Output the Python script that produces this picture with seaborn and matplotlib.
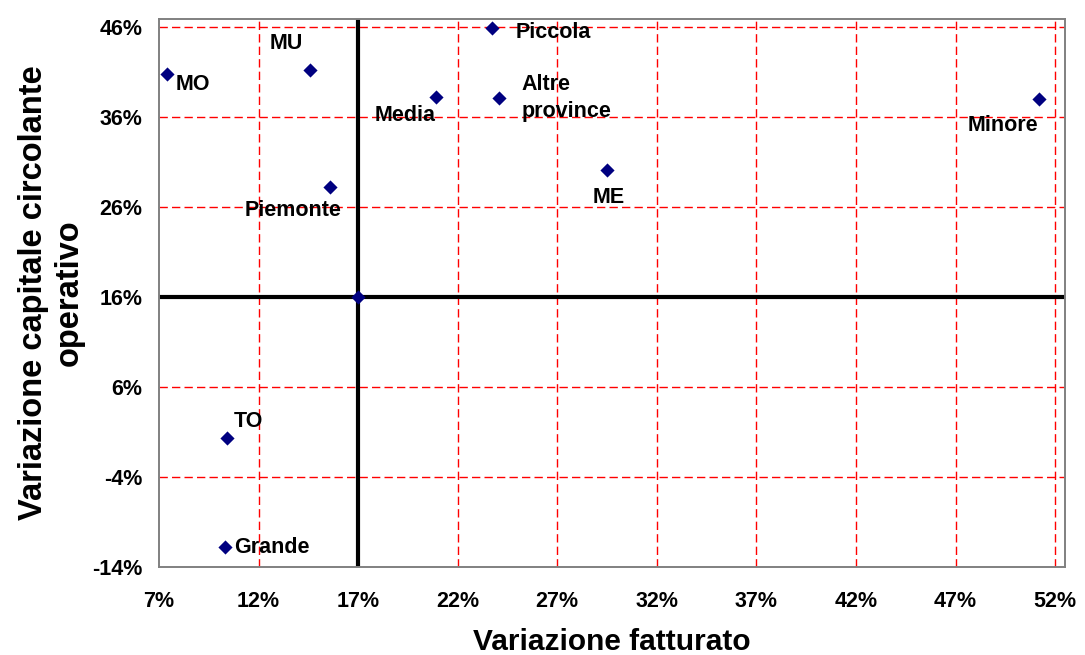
import numpy as np
import pandas as pd
import matplotlib
matplotlib.use("Agg")
import matplotlib.pyplot as plt
import seaborn as sns

# Data (percent values)
labels = ["MO", "MU", "Piccola", "Media", "Altre\nprovince", "Minore",
          "ME", "Piemonte", "", "TO", "Grande"]
var_fatturato = [7.4, 14.6, 23.7, 20.9, 24.1, 51.2, 29.5, 15.6, 17.0, 10.4, 10.3]
var_capitale = [40.8, 41.2, 45.9, 38.2, 38.1, 38.0, 30.1, 28.2, 16.0, 0.3, -11.8]

x_ticks = [7, 12, 17, 22, 27, 32, 37, 42, 47, 52]
y_ticks = [-14, -4, 6, 16, 26, 36, 46]
x_cross = 17.0
y_cross = 16.0

# label offsets in points (dx, dy, ha)
label_pos = {
    "MO": (6, -8, "left"),
    "MU": (-17, 19, "center"),
    "Piccola": (17, -3, "left"),
    "Media": (0, -13, "right"),
    "Altre\nprovince": (16, 0, "left"),
    "Minore": (-26, -19, "center"),
    "ME": (1, -20, "center"),
    "Piemonte": (-27, -17, "center"),
    "TO": (5, 12, "left"),
    "Grande": (7, 0, "left"),
}

df = pd.DataFrame({"label": labels, "fatturato": var_fatturato,
                   "capitale": var_capitale})

sns.set_style("white")
plt.rcParams["font.family"] = ["Liberation Sans", "DejaVu Sans"]
plt.rcParams["font.weight"] = "bold"
plt.rcParams["text.color"] = "black"
plt.rcParams["axes.labelcolor"] = "black"
plt.rcParams["xtick.color"] = "black"
plt.rcParams["ytick.color"] = "black"

fig, ax = plt.subplots(figsize=(10.85, 6.55), dpi=100)
fig.subplots_adjust(left=0.1465, right=0.9816, top=0.971, bottom=0.1344)

# red dashed grid
for xv in x_ticks[1:]:
    ax.axvline(xv, color="red", lw=1.0, ls=(0, (6, 3)), zorder=1)
for yv in y_ticks[1:]:
    ax.axhline(yv, color="red", lw=1.0, ls=(0, (6, 3)), zorder=1)

# quadrant lines
ax.axvline(x_cross, color="black", lw=3, zorder=2)
ax.axhline(y_cross, color="black", lw=3, zorder=2)

sns.scatterplot(data=df, x="fatturato", y="capitale", marker="D", s=52,
                color="#000080", linewidth=0, ax=ax, zorder=3)

for lab, xv, yv in zip(labels, var_fatturato, var_capitale):
    if not lab:
        continue
    dx, dy, ha = label_pos[lab]
    ax.annotate(lab, (xv, yv), xytext=(dx, dy), textcoords="offset points",
                ha=ha, va="center", fontsize=15.5, fontweight="bold",
                color="black", linespacing=1.4, zorder=4)

ax.set_xlim(7, 52.5)
ax.set_ylim(-14, 46.9)
ax.set_xticks(x_ticks)
ax.set_yticks(y_ticks)
ax.set_xticklabels([f"{v}%" for v in x_ticks])
ax.set_yticklabels([f"{v}%" for v in y_ticks])
ax.tick_params(axis="x", length=0, pad=17, labelsize=15.5)
ax.tick_params(axis="y", length=0, pad=12, labelsize=15.5)

for sp in ax.spines.values():
    sp.set_color("#808080")
    sp.set_linewidth(1.4)

ax.set_xlabel("Variazione fatturato", fontsize=21.5, fontweight="bold",
              labelpad=12)
ax.set_ylabel("Variazione capitale circolante\noperativo", fontsize=23.5,
              fontweight="bold", labelpad=5, linespacing=1.2)

fig.savefig("out.png", dpi=100)
